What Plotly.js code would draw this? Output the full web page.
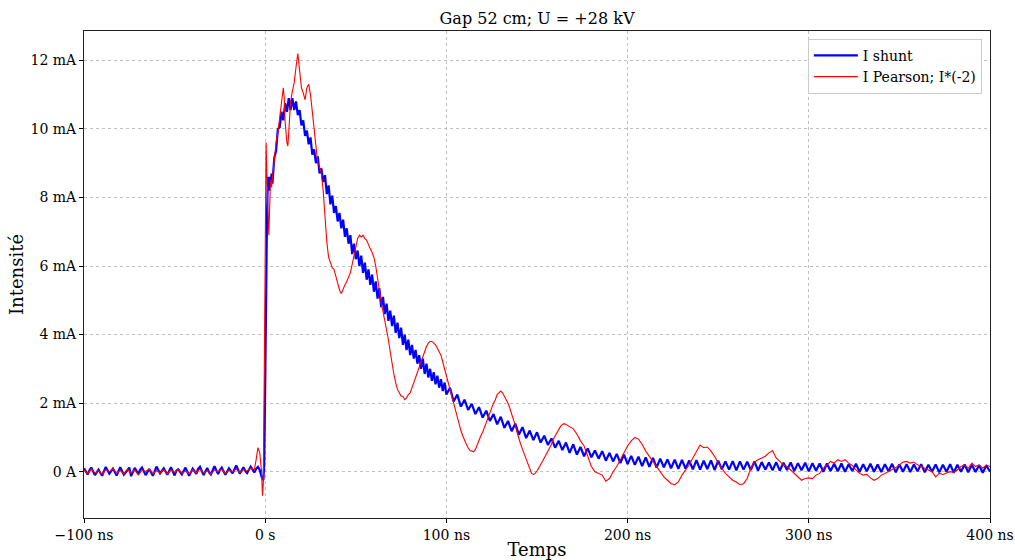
<!DOCTYPE html>
<html>
<head>
<meta charset="utf-8">
<script src="https://cdn.plot.ly/plotly-3.0.1.min.js"></script>
<style>html,body{margin:0;padding:0;background:#fff;}#chart{width:1015px;height:560px;}</style>
</head>
<body>
<div id="chart"></div>
<script>
// Time in ns, current in mA
const shuntSamples = [
[-100,0.10],[-98,-0.08],[-97,0.04],[-96,0.12],[-94,-0.10],[-92,0.06],[-91,-0.03],[-90,-0.12],[-88,0.14],[-86,-0.06],[-84,0.09],[-83,-0.02],[-82,-0.11],
[-80,0.13],[-78,-0.09],[-76,0.05],[-75,0.12],[-74,-0.13],[-72,0.11],[-70,-0.07],[-69,0.06],[-68,0.12],[-66,-0.10],[-64,0.08],[-63,-0.04],[-62,-0.12],
[-60,0.15],[-58,-0.05],[-56,0.10],[-55,-0.02],[-54,-0.09],[-52,0.13],[-50,-0.11],[-49,0.03],[-48,0.07],[-46,-0.08],[-44,0.12],[-43,0.0],[-42,-0.12],
[-40,0.09],[-38,-0.06],[-37,0.08],[-36,0.14],[-34,-0.10],[-32,0.11],[-31,-0.02],[-30,-0.08],[-28,0.16],[-26,-0.07],[-25,0.05],[-24,0.12],[-22,-0.09],
[-20,0.10],[-18,-0.05],[-17,0.09],[-16,0.18],[-14,-0.06],[-12,0.13],[-11,0.02],[-10,-0.04],[-8,0.15],[-6,-0.02],[-5,0.08],[-4,0.14],[-3,0.05],
[-2,-0.15],[-1,-0.25],[-0.5,0.3],[0,2.5],[0.5,5.5],[1,7.5],[1.5,8.6],[2,8.2],[2.5,8.6],[3,8.3],[3.5,8.7],[4,8.4],
[5,9.15],[6,9.35],[7,10.0],[8,10.05],[9,10.5],[10,10.25],[11,10.75],[12,10.5],[13,10.9],[14,10.55],[15,10.9],[16,10.55],
[17,10.8],[18,10.4],[19,10.55],[20,10.1],[21,10.25],[22,9.8],[23,9.95],[24,9.55],[25,9.75],[26,9.25],[27,9.4],[28,9.0],
[29,9.2],[30,8.7],[31,8.85],[32,8.45],[33,8.65],[34,8.1],[35,8.35],[36,7.8],[37,8.05],[38,7.55],[39,7.75],[40,7.3],
[41,7.55],[42,7.1],[43,7.35],[44,6.85],[45,7.1],[46,6.65],[47,6.9],[48,6.35],[49,6.65],[50,6.2],[51,6.45],[52,6.0],[53,6.3],[54,5.8],
[55,6.1],[56,5.6],[57,5.9],[58,5.45],[59,5.75],[60,5.25],[61,5.55],[62,5.05],[63,5.35],[64,4.8],[65,5.1],[66,4.6],[67,4.9],[68,4.4],[69,4.7],
[70,4.25],[71,4.55],[72,4.05],[73,4.35],[74,3.9],[75,4.2],[76,3.7],[77,4.0],[78,3.55],[79,3.85],[80,3.4],[81,3.7],[82,3.3],[83,3.55],[84,3.15],
[85,3.4],[86,3.0],[87,3.3],[88,2.85],[89,3.15],[90,2.75],[91,3.0],[92,2.65],[93,2.9],[94,2.55],[95,2.8],[96,2.45],[97,2.7],[98,2.35],[99,2.6],
[100,2.25],[102,2.45],[104,2.05],[106,2.25],[108,1.9],[110,2.1],[112,1.8],
[114,1.98],[116,1.68],[118,1.88],[120,1.58],[122,1.78],[124,1.48],[126,1.68],[128,1.38],[130,1.6],[132,1.28],[134,1.48],
[136,1.18],[138,1.4],[140,1.08],[142,1.3],[144,0.98],[146,1.2],[148,0.92],[150,1.15],[152,0.85],[154,1.05],[156,0.78],
[158,0.97],[160,0.7],[162,0.9],[164,0.63],[166,0.85],[168,0.55],[170,0.8],[172,0.5],[174,0.72],[176,0.45],[178,0.68],
[180,0.42],[182,0.62],[184,0.38],[186,0.6],[188,0.32],[190,0.55],[192,0.3],[194,0.52],[196,0.25],[198,0.5],[200,0.22],
[202,0.46],[204,0.2],[206,0.44],[208,0.16],[210,0.42],[212,0.14],[214,0.4],[216,0.12],[218,0.38],[220,0.13],[222,0.36],
[224,0.1],[226,0.35],[228,0.08],[230,0.34],[232,0.09],[234,0.33],[236,0.07],[238,0.34],[240,0.06],[242,0.32],[244,0.08],
[246,0.33],[248,0.05],[250,0.32],[252,0.07],[254,0.3],[256,0.06],[258,0.31],[260,0.04],[262,0.3],[264,0.06],[266,0.29],
[268,0.05],[270,0.3],[272,0.03],[274,0.28],[276,0.06],[278,0.27],[280,0.04],[282,0.28],[284,0.03],[286,0.26],[288,0.05],
[290,0.27],[292,0.02],[294,0.25],[296,0.04],[298,0.26],[300,0.01],[302,0.25],[304,0.03],[306,0.24],[308,0.0],[310,0.24],
[312,0.02],[314,0.23],[316,0.01],[318,0.24],[320,0.0],[322,0.22],[324,0.02],[326,0.23],[328,-0.01],[330,0.22],[332,0.01],
[334,0.23],[336,0.0],[338,0.21],[340,-0.01],[342,0.22],[344,0.01],[346,0.23],[348,-0.02],[350,0.21],[352,0.0],[354,0.22],
[356,-0.01],[358,0.21],[360,0.01],[362,0.22],[364,-0.02],[366,0.2],[368,0.0],[370,0.21],[372,-0.02],[374,0.2],[376,0.0],
[378,0.22],[380,-0.03],[382,0.2],[384,0.0],[386,0.21],[388,-0.02],[390,0.2],[392,-0.01],[394,0.19],[396,-0.03],[398,0.18],
[400,0.0]
];

const pearsonSamples = [
[-100,0.05],[-98,-0.06],[-96,0.08],[-94,-0.04],[-92,0.03],[-90,-0.08],[-88,0.06],[-86,0.0],[-84,0.09],[-82,-0.05],
[-80,0.04],[-78,-0.07],[-76,0.07],[-74,-0.03],[-72,0.05],[-70,-0.09],[-68,0.04],[-66,0.01],[-64,0.08],[-62,-0.06],
[-60,0.03],[-58,-0.04],[-56,0.06],[-54,-0.07],[-52,0.05],[-50,-0.02],[-48,0.07],[-46,-0.05],[-44,0.02],[-42,-0.06],
[-40,0.06],[-38,-0.03],[-36,0.08],[-34,-0.04],[-32,0.03],[-30,-0.07],[-28,0.05],[-26,0.0],[-24,0.07],[-22,-0.05],
[-20,0.04],[-18,0.0],[-16,0.08],[-14,-0.03],[-12,0.06],[-10,0.02],[-8,0.1],[-6,0.05],
[-5,0.35],[-4,0.7],[-3,0.55],[-2,0.0],[-1.5,-0.7],[-1,-0.3],[-0.5,3.0],[0,7.0],[0.5,9.6],[1,8.5],[1.5,7.2],[2,6.9],
[2.5,7.8],[3,8.5],[3.5,8.3],[4,8.6],[5,9.1],[6,9.6],[7,9.9],[8,10.3],[9,10.8],[10,11.2],[10.5,10.9],[11,10.2],[12,9.6],
[12.5,9.5],[13,9.9],[14,10.8],[15,11.1],[16,11.35],[17,11.8],[18,12.2],[19,11.7],[20,11.2],[21,11.05],[22,10.85],
[23,11.2],[24,11.3],[25,11.0],[26,10.5],[27,9.9],[28,9.3],[29,9.0],[30,8.9],[31,8.7],[32,8.2],[33,7.4],[34,6.7],
[35,6.25],[36,6.1],[37,5.95],[38,5.9],[39,5.7],[40,5.5],[41,5.3],[42,5.2],[43,5.35],[44,5.45],[45,5.55],[46,5.7],
[47,5.8],[48,6.05],[49,6.3],[50,6.6],[51,6.8],[52,6.9],[53,6.85],[54,6.9],[55,6.8],[56,6.75],[57,6.6],[58,6.5],
[59,6.4],[60,6.25],[61,6.0],[62,5.7],[63,5.3],[64,4.95],[65,4.7],[66,4.4],[67,4.1],[68,3.85],[69,3.5],[70,3.15],
[71,2.85],[72,2.6],[73,2.4],[74,2.3],[75,2.2],[76,2.2],[77,2.1],[78,2.15],[79,2.25],[80,2.3],[81,2.45],[82,2.6],
[83,2.75],[84,2.95],[85,3.1],[86,3.2],[87,3.35],[88,3.5],[89,3.65],[90,3.75],[91,3.8],[92,3.8],[93,3.75],[94,3.7],
[95,3.6],[96,3.5],[97,3.4],[98,3.2],[99,3.0],[100,2.8],[101,2.55],[102,2.35],[103,2.15],[104,2.0],[105,1.75],[106,1.55],
[107,1.35],[108,1.2],[109,1.05],[110,0.9],[111,0.8],[112,0.7],[113,0.62],[114,0.6],[115,0.58],[116,0.65],[117,0.8],
[118,0.95],[119,1.05],[120,1.15],[121,1.3],[122,1.45],[123,1.6],[124,1.75],[125,1.85],[126,2.0],[127,2.1],[128,2.25],
[129,2.3],[130,2.35],[131,2.3],[132,2.2],[133,2.1],[134,2.0],[135,1.85],[136,1.7],[137,1.5],[138,1.35],[139,1.15],
[140,0.95],[141,0.8],[142,0.65],[143,0.5],[144,0.35],[145,0.2],[146,0.08],[147,-0.05],[148,-0.08],[149,-0.05],[150,0.02],
[151,0.1],[152,0.2],[153,0.3],[154,0.4],[155,0.5],[156,0.6],[157,0.7],[158,0.8],[159,0.95],[160,1.05],[161,1.15],
[162,1.25],[163,1.32],[164,1.38],[165,1.4],[166,1.38],[167,1.35],[168,1.3],[169,1.28],[170,1.25],[172,1.1],[174,0.9],
[176,0.75],[178,0.45],[180,0.15],[182,0.0],[184,-0.05],[186,-0.1],[188,-0.28],[190,-0.2],[192,0.0],[194,0.15],[196,0.35],
[198,0.55],[200,0.75],[202,0.9],[204,1.0],[206,0.95],[208,0.8],[210,0.6],[212,0.45],[214,0.3],[216,0.15],[218,0.0],
[220,-0.15],[222,-0.25],[224,-0.35],[226,-0.38],[228,-0.3],[230,-0.1],[232,0.05],[234,0.2],[236,0.4],[238,0.6],[240,0.78],
[242,0.7],[244,0.72],[246,0.6],[248,0.45],[250,0.25],[252,0.1],[254,-0.05],[256,-0.15],[258,-0.25],[260,-0.3],[262,-0.38],
[264,-0.35],[266,-0.2],[268,0.1],[270,0.28],[272,0.35],[274,0.4],[276,0.45],[278,0.55],[280,0.62],[282,0.4],[284,0.3],
[286,0.2],[288,0.15],[290,0.05],[292,-0.05],[294,-0.15],[296,-0.25],[298,-0.2],[300,-0.18],[302,-0.2],[304,-0.1],
[306,-0.05],[308,0.1],[310,0.2],[312,0.3],[314,0.25],[316,0.35],[318,0.3],[320,0.35],[322,0.25],[324,0.18],[326,0.05],
[328,-0.05],[330,-0.1],[332,-0.08],[334,-0.18],[336,-0.25],[338,-0.2],[340,-0.1],[342,-0.05],[344,0.0],[346,0.05],
[348,0.12],[350,0.2],[352,0.28],[354,0.3],[356,0.25],[358,0.28],[360,0.2],[362,0.15],[364,0.1],[366,0.05],[368,0.0],
[370,-0.15],[372,-0.05],[374,-0.08],[376,-0.05],[378,0.0],[380,-0.02],[382,0.05],[384,0.15],[386,0.2],[388,0.1],
[390,0.25],[392,0.15],[394,0.2],[396,0.1],[398,0.2],[400,0.15]
];

const xTickVals = [-100, 0, 100, 200, 300, 400];
const xTickText = ['\u2212100 ns', '0 s', '100 ns', '200 ns', '300 ns', '400 ns'];
const yTickVals = [0, 2, 4, 6, 8, 10, 12];
const yTickText = ['0 A', '2 mA', '4 mA', '6 mA', '8 mA', '10 mA', '12 mA'];

const FONT = 'DejaVu Serif, serif';

const traces = [
  {
    x: shuntSamples.map(p => p[0]), y: shuntSamples.map(p => p[1]),
    type: 'scatter', mode: 'lines', name: 'I shunt',
    line: {color: '#0000ff', width: 2.2}
  },
  {
    x: pearsonSamples.map(p => p[0]), y: pearsonSamples.map(p => p[1]),
    type: 'scatter', mode: 'lines', name: 'I Pearson; I*(-2)',
    line: {color: '#ff0000', width: 1.1}
  }
];

const axisCommon = {
  showline: true, mirror: true, linecolor: '#222', linewidth: 1,
  ticks: 'outside', ticklen: 4, tickwidth: 1, tickcolor: '#000',
  showgrid: true, gridcolor: '#b0b0b0', gridwidth: 0.8, griddash: 'dot',
  zeroline: false, tickfont: {family: FONT, size: 14, color: '#000'}
};

const layout = {
  width: 1015, height: 560,
  margin: {l: 84, r: 25, t: 31, b: 42},
  paper_bgcolor: '#fff', plot_bgcolor: '#fff',
  font: {family: FONT, color: '#000'},
  title: {text: 'Gap 52 cm; U = +28 kV', font: {family: FONT, size: 16, color: '#000'},
          x: 0.5, xref: 'paper', y: 1 - 18/560, yref: 'container', yanchor: 'middle'},
  xaxis: Object.assign({}, axisCommon, {
    range: [-100, 400], tickmode: 'array', tickvals: xTickVals, ticktext: xTickText,
    title: {text: 'Temps', font: {family: FONT, size: 18, color: '#000'}, standoff: 4}
  }),
  yaxis: Object.assign({}, axisCommon, {
    range: [-1.351, 12.856], tickmode: 'array', tickvals: yTickVals, ticktext: yTickText,
    title: {text: 'Intensité', font: {family: FONT, size: 18, color: '#000'}, standoff: 2}
  }),
  showlegend: true,
  legend: {x: 0.991, xanchor: 'right', y: 0.984, yanchor: 'top', itemwidth: 44,
           bgcolor: 'rgba(255,255,255,0.9)', bordercolor: '#cccccc', borderwidth: 1,
           font: {family: FONT, size: 14, color: '#000'}, tracegroupgap: 0}
};

Plotly.newPlot('chart', traces, layout, {displayModeBar: false, staticPlot: true});
</script>
</body>
</html>
